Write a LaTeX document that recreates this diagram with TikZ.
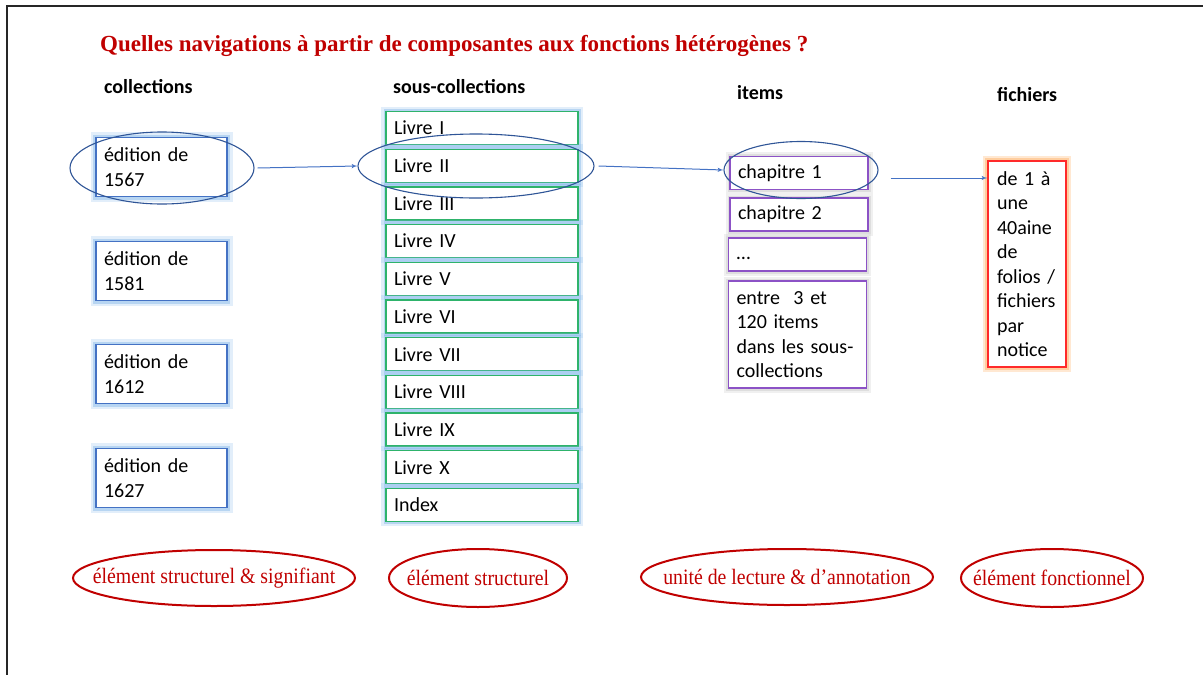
\documentclass[tikz,border=0pt]{standalone}
\usepackage{fontspec}
\setmainfont{Carlito}[WordSpace=0.85]
\newfontfamily\titlefont{Liberation Serif}
\usetikzlibrary{arrows,positioning,shapes.geometric}
\definecolor{titlered}{HTML}{C00000}
\definecolor{edgeblue}{HTML}{4472C4}
\definecolor{ringblue}{HTML}{2F5597}
\definecolor{glowblue}{HTML}{8CBCEB}
\definecolor{livregreen}{HTML}{2EB36B}
\definecolor{itempurple}{HTML}{8C52C6}
\definecolor{fichred}{HTML}{FF2A2A}
\definecolor{gloworange}{HTML}{FFB36B}
\newcommand{\boxfont}{\fontsize{20}{24.5}\selectfont}
\newcommand{\roletext}[1]{\makebox[0pt]{\scalebox{0.9}[1]{#1}}}
\tikzstyle{frame} = [draw=black!85,line width=2pt]
\tikzstyle{titletext} = [anchor=west,inner sep=0pt,text=titlered,font=\titlefont\bfseries\fontsize{23}{27}\selectfont]
\tikzstyle{colhead} = [anchor=west,inner sep=0pt,font=\bfseries\fontsize{20}{24}\selectfont]
\tikzstyle{coll} = [draw=edgeblue,line width=1.3pt,fill=white,minimum height=59pt,text width=115pt,inner xsep=8pt,align=left,font=\boxfont,
    preaction={draw=glowblue,line width=11pt,opacity=0.25},preaction={draw=glowblue,line width=6pt,opacity=0.5}]
\tikzstyle{livre} = [draw=livregreen,line width=1.3pt,fill=white,minimum height=33pt,text width=176pt,inner xsep=8pt,align=left,font=\boxfont,
    preaction={draw=glowblue,line width=10pt,opacity=0.25},preaction={draw=glowblue,line width=5pt,opacity=0.5}]
\tikzstyle{item} = [draw=itempurple,line width=1.2pt,fill=white,minimum height=33pt,text width=122pt,inner xsep=8pt,align=left,font=\boxfont,
    preaction={draw=black!20,line width=9pt,opacity=0.3},preaction={draw=black!20,line width=5pt,opacity=0.5}]
\tikzstyle{fich} = [draw=fichred,line width=1.3pt,fill=white,minimum height=206pt,text width=60pt,inner xsep=9pt,align=left,font=\boxfont,
    preaction={draw=gloworange,line width=10pt,opacity=0.3},preaction={draw=gloworange,line width=6pt,opacity=0.5}]
\tikzstyle{ring} = [draw=ringblue,line width=1.1pt,ellipse,inner sep=0pt]
\tikzstyle{link} = [draw=edgeblue,line width=1pt,->]
\tikzstyle{role} = [draw=titlered,line width=2pt,ellipse,inner sep=0pt,text=titlered,font=\titlefont\fontsize{22}{24}\selectfont]

\begin{document}
\begin{tikzpicture}[x=1pt,y=-1pt,>=latex']
\useasboundingbox (0,0) rectangle (1203,675);
\draw[frame] (7,675) -- (7,6) -- (1203,6);
%%% Title and column heads
\node[titletext] (title) at (100,46) {Quelles navigations à partir de composantes aux fonctions hétérogènes ?};
\node[colhead] (hcoll) at (104,87) {collections};
\node[colhead] (hsous) at (393,87) {sous-collections};
\node[colhead] (hitems) at (737,93) {items};
\node[colhead] (hfich) at (997,95) {fichiers};

%%% Collections
\foreach \yr/\y in {1567/167,1581/271,1612/374,1627/478} {
    \node[coll] (ed\yr) at (161.5,\y) {édition de\\\yr};
}

%%% Sous-collections
\foreach \t [count=\i] in {I,II,III,IV,V,VI,VII,VIII,IX,X} {
    \node[livre] (livre\i) at (482,{90.3+37.7*\i}) {Livre \t};
}
\node[livre] (index) at (482,504.7) {Index};

%%% Items
\node[item] (chap1) at (799,173) {chapitre 1};
\node[item] (chap2) at (799,214.5) {chapitre 2};
\node[item] (etc) at (797.5,254.5) {\strut…};
\node[item,minimum height=107pt] (entre) at (797.5,334.5) {entre\ \ 3 et\\120 items\\dans les sous-\\collections};

%%% Fichiers
\node[fich] (fich) at (1027,264) {de 1 à\\une\\40aine\\de\\folios /\\fichiers\\par\\notice};

%%% Rings and navigation arrows
\node[ring,minimum width=184pt,minimum height=72pt] (ring1567) at (162,168) {};
\node[ring,minimum width=236pt,minimum height=64pt] (ringII) at (476,166) {};
\node[ring,minimum width=154pt,minimum height=57pt] (ringchap) at (801,170) {};
\draw[link] ([xshift=3pt]ring1567.east) -- (ringII.west);
\draw[link] ([xshift=4pt]ringII.east) -- (ringchap.west);
\draw[link] ([xshift=12pt,yshift=-8pt]ringchap.east) -- ([yshift=-8pt]ringchap.east -| fich.west);

%%% Roles
\node[role,minimum width=282pt,minimum height=56pt] (role1) at (214,578) {\roletext{élément structurel \& signifiant}};
\node[role,minimum width=178pt,minimum height=58pt] (role2) at (478,578) {\roletext{élément structurel}};
\node[role,minimum width=292pt,minimum height=56pt] (role3) at (787,577) {\roletext{unité de lecture \& d’annotation}};
\node[role,minimum width=182pt,minimum height=58pt] (role4) at (1052,578) {\roletext{élément fonctionnel}};
\end{tikzpicture}
\end{document}
